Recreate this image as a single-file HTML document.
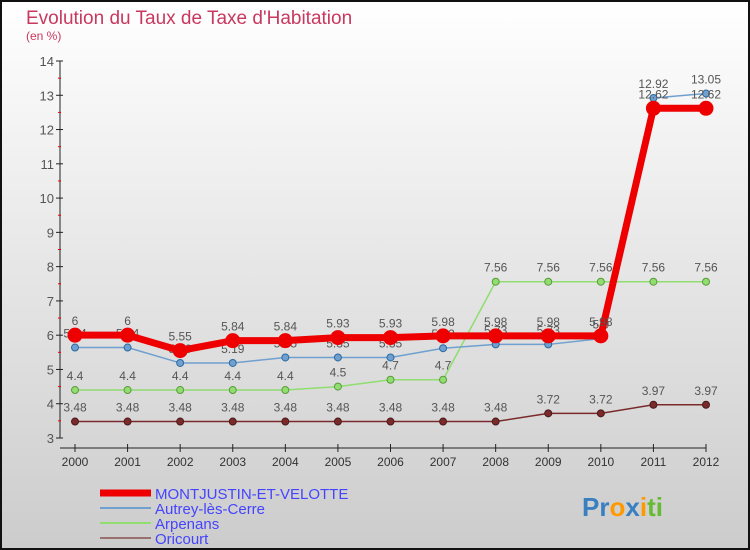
<!DOCTYPE html>
<html><head><meta charset="utf-8"><style>
body{margin:0;width:750px;height:550px;overflow:hidden;font-family:"Liberation Sans",sans-serif}
svg{display:block}
</style></head><body>
<svg id="c" width="750" height="550" xmlns="http://www.w3.org/2000/svg">
<defs><linearGradient id="bg" x1="0" y1="0" x2="0" y2="1"><stop offset="0" stop-color="#ffffff"/><stop offset="1" stop-color="#cccccc"/></linearGradient></defs>
<rect x="1" y="1" width="748" height="548" fill="url(#bg)" stroke="#111" stroke-width="2"/>
<text x="26" y="24" font-size="19" fill="#c8385f">Evolution du Taux de Taxe d'Habitation</text>
<text x="26" y="40" font-size="12" fill="#c8385f">(en %)</text>
<g id="axes"></g><g id="series"></g>
<g>
<line x1="100" y1="493" x2="151" y2="493" stroke="#ee0000" stroke-width="7"/>
<text x="155" y="499" font-size="15" fill="#4444ff">MONTJUSTIN-ET-VELOTTE</text>
<line x1="100" y1="508" x2="151" y2="508" stroke="#6fa0cf" stroke-width="2"/>
<text x="155" y="514" font-size="15" fill="#4444ff">Autrey-lès-Cerre</text>
<line x1="100" y1="523" x2="151" y2="523" stroke="#90dd70" stroke-width="2"/>
<text x="155" y="529" font-size="15" fill="#4444ff">Arpenans</text>
<line x1="100" y1="538" x2="151" y2="538" stroke="#9a6f6f" stroke-width="2"/>
<text x="155" y="544" font-size="15" fill="#4444ff">Oricourt</text>
</g>
<text x="582" y="516" font-size="26" font-weight="bold"><tspan fill="#3a7fc0">Pr</tspan><tspan fill="#ff9900">o</tspan><tspan fill="#3a7fc0">x</tspan><tspan fill="#ff9900">i</tspan><tspan fill="#66bb33">ti</tspan></text>
</svg>
<script>
const years=[2000,2001,2002,2003,2004,2005,2006,2007,2008,2009,2010,2011,2012];
const montjustin=[6,6,5.55,5.84,5.84,5.93,5.93,5.98,5.98,5.98,5.98,12.62,12.62];
const autrey=[5.64,5.64,5.19,5.19,5.35,5.35,5.35,5.62,5.73,5.73,5.9,12.92,13.05];
const arpenans=[4.4,4.4,4.4,4.4,4.4,4.5,4.7,4.7,7.56,7.56,7.56,7.56,7.56];
const oricourt=[3.48,3.48,3.48,3.48,3.48,3.48,3.48,3.48,3.48,3.72,3.72,3.97,3.97];
const yTicks=[3,4,5,6,7,8,9,10,11,12,13,14];
const NS="http://www.w3.org/2000/svg";
const xS=i=>75+i*(706-75)/(years.length-1);
const yS=v=>438-(v-3)*(438-61)/11;
function mk(tag,attrs,parent){const e=document.createElementNS(NS,tag);for(const k in attrs)e.setAttribute(k,attrs[k]);parent.appendChild(e);return e;}
const ax=document.getElementById('axes');
let l=mk('line',{x1:60,y1:yS(14),x2:60,y2:yS(3),stroke:'#222'},ax);


l=mk('line',{x1:60,y1:448,x2:706,y2:448,stroke:'#222'},ax);


yTicks.forEach(t=>{
 const y=yS(t);
 mk('line',{x1:56,y1:y,x2:63,y2:y,stroke:'#222'},ax);
 if(t<14) mk('line',{x1:58,y1:yS(t+0.5),x2:61,y2:yS(t+0.5),stroke:'#e00'},ax);
 const tx=mk('text',{x:54,y:y+5,'font-size':13,fill:'#555','text-anchor':'end'},ax);tx.textContent=t;
 
 
});
years.forEach((yr,i)=>{
 const x=xS(i);
 mk('line',{x1:x,y1:444,x2:x,y2:452,stroke:'#222'},ax);
 const tx=mk('text',{x:x,y:466,'font-size':12,fill:'#333','text-anchor':'middle'},ax);tx.textContent=yr;
 
 
});
const sg=document.getElementById('series');
function draw(name,vals,color,w,r,stroke){
 const g=mk('g',{},sg);
 
 
 const pl=mk('polyline',{points:vals.map((v,i)=>xS(i)+','+yS(v)).join(' '),fill:'none',stroke:color,'stroke-width':w,'stroke-linejoin':'round'},g);
 
 
 vals.forEach((v,i)=>{
  const c=mk('circle',{cx:xS(i),cy:yS(v),r:r,fill:color,stroke:stroke,'stroke-width':1},g);
  
  
  const t=mk('text',{x:xS(i),y:yS(v)-10,'font-size':12,fill:'#555','text-anchor':'middle'},g);t.textContent=v;
  
  
 });
}
draw('oricourt',oricourt,'#7a2a2a',1.5,3.5,'#4a1a1a');
draw('arpenans',arpenans,'#90dd70',1.5,3.5,'#5a9a3a');
draw('autrey',autrey,'#6fa0cf',1.5,3.5,'#2a6aa0');
draw('montjustin',montjustin,'#ee0000',7,7,'#ee0000');
</script>
</body></html>
